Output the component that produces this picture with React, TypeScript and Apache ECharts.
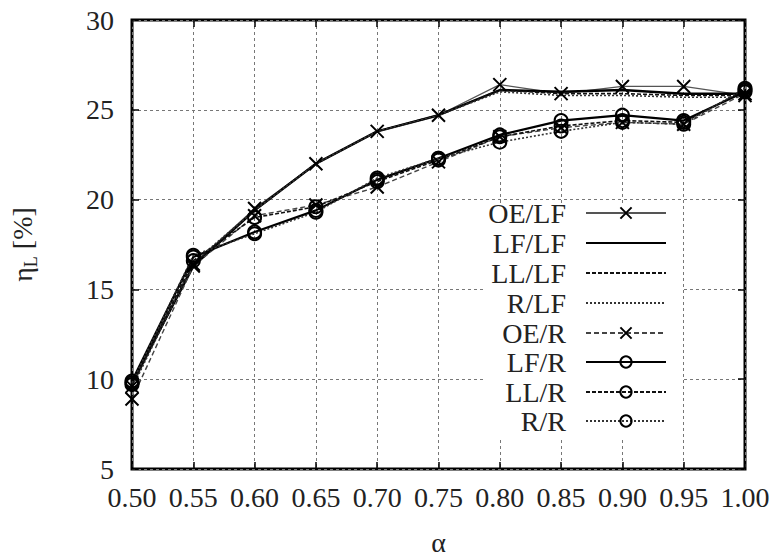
import React, { useEffect, useRef } from "react";
import * as echarts from "echarts";

const alphas = [0.5, 0.55, 0.6, 0.65, 0.7, 0.75, 0.8, 0.85, 0.9, 0.95, 1.0];
const seriesNames = ["OE/LF", "LF/LF", "LL/LF", "R/LF", "OE/R", "LF/R", "LL/R", "R/R"];
const oeLf = [9.6, 16.4, 19.5, 22.0, 23.8, 24.7, 26.4, 25.9, 26.3, 26.3, 25.8];
const lfLf = [9.8, 16.3, 19.4, 22.0, 23.8, 24.7, 26.1, 26.0, 26.1, 25.9, 25.9];
const llLf = [9.7, 16.4, 19.4, 22.0, 23.8, 24.7, 26.1, 25.9, 25.9, 25.8, 25.8];
const rLf = [9.5, 16.5, 19.4, 22.0, 23.8, 24.7, 26.0, 25.8, 25.8, 25.7, 25.7];
const oeR = [8.9, 16.3, 19.1, 19.7, 20.7, 22.1, 23.5, 24.0, 24.3, 24.2, 25.9];
const lfR = [9.9, 16.8, 18.2, 19.4, 21.1, 22.3, 23.6, 24.4, 24.7, 24.4, 26.0];
const llR = [9.7, 16.6, 19.0, 19.6, 21.0, 22.2, 23.5, 24.1, 24.4, 24.3, 26.1];
const rR = [9.8, 16.9, 18.1, 19.3, 21.2, 22.3, 23.2, 23.8, 24.3, 24.2, 26.2];
const yTicks = [5, 10, 15, 20, 25, 30];

const FONT = "'Liberation Serif', 'Times New Roman', serif";
const CROSS = "path://M0,0L10,10M0,10L10,0";

type Style = { w: number; type: any; color: string; symbol: string };
const styles: Style[] = [
  { w: 1.2, type: "solid", color: "#555", symbol: CROSS },
  { w: 2.5, type: "solid", color: "#000", symbol: "none" },
  { w: 1.6, type: [4, 2], color: "#111", symbol: "none" },
  { w: 1.6, type: [2, 2], color: "#333", symbol: "none" },
  { w: 1.4, type: [5, 3], color: "#444", symbol: CROSS },
  { w: 2.2, type: "solid", color: "#000", symbol: "circle" },
  { w: 1.6, type: [4, 2], color: "#111", symbol: "circle" },
  { w: 1.6, type: [2, 2], color: "#333", symbol: "circle" },
];
const values = [oeLf, lfLf, llLf, rLf, oeR, lfR, llR, rR];

export default function App() {
  const ref = useRef<HTMLDivElement>(null);
  useEffect(() => {
    if (!ref.current) return;
    const chart = echarts.init(ref.current, undefined, { renderer: "svg" });
    const legendTops = [213, 243, 273, 303, 333, 362, 392, 421];
    const series = seriesNames.map((name, i) => {
      const s = styles[i];
      return {
        name,
        type: "line",
        data: alphas.map((a, k) => [a, values[i][k]]),
        symbol: s.symbol,
        symbolSize: 13,
        showSymbol: s.symbol !== "none",
        lineStyle: { width: s.w, type: s.type, color: s.color },
        itemStyle: { color: "rgba(0,0,0,0)", borderColor: "#000", borderWidth: 2 },
        emphasis: { disabled: true },
        z: 3,
      };
    });
    const legends = seriesNames.map((name, i) => {
      const noMark = styles[i].symbol === "none";
      return {
        data: [
          noMark
            ? {
                name,
                itemStyle: { color: "rgba(0,0,0,0)", borderColor: "rgba(0,0,0,0)", borderWidth: 0, opacity: 0 },
              }
            : { name },
        ],
        right: 107,
        top: legendTops[i] - 14,
        align: "right",
        orient: "vertical",
        padding: 0,
        itemWidth: 80,
        itemHeight: 14,
        selectedMode: false,
        textStyle: {
          fontFamily: FONT,
          fontSize: 28,
          lineHeight: 28,
          color: "#222",
          padding: [0, 15, 0, 0],
        },
      };
    });
    chart.setOption({
      animation: false,
      backgroundColor: "#fff",
      textStyle: { fontFamily: FONT },
      grid: {
        left: 132,
        right: 29,
        top: 20,
        bottom: 87,
        outerBoundsMode: "none",
        containLabel: false,
        show: true,
        borderColor: "#000",
        borderWidth: 3,
        backgroundColor: "transparent",
      },
      legend: legends,
      graphic: [
        {
          type: "rect",
          shape: { x: 484, y: 203, width: 197, height: 234 },
          style: { fill: "#fff" },
          z: 1,
          silent: true,
        },
      ],
      xAxis: [
        {
          type: "value",
          min: 0.5,
          max: 1.0,
          interval: 0.05,
          name: "α",
          nameLocation: "middle",
          nameGap: 63,
          nameTextStyle: { fontFamily: FONT, fontSize: 28, lineHeight: 20, color: "#222" },
          axisLine: { show: false },
          axisTick: { show: true, inside: true, length: 7, lineStyle: { color: "#000", width: 1.5 } },
          axisLabel: {
            fontFamily: FONT,
            fontSize: 28,
            color: "#222",
            margin: 14,
            formatter: (v: number) => v.toFixed(2),
          },
          splitLine: { show: true, lineStyle: { color: "#777", type: [3, 3], width: 1 } },
        },
        {
          type: "value",
          position: "top",
          min: 0.5,
          max: 1.0,
          interval: 0.05,
          axisLine: { show: false },
          axisTick: { show: true, inside: true, length: 7, lineStyle: { color: "#000", width: 1.5 } },
          axisLabel: { show: false },
          splitLine: { show: false },
        },
      ],
      yAxis: [
        {
          type: "value",
          min: 5,
          max: 30,
          interval: 5,
          name: "{a|η}{b|L} [%]",
          nameLocation: "middle",
          nameGap: 92,
          nameRotate: 90,
          nameTextStyle: {
            fontFamily: FONT,
            fontSize: 28,
            color: "#222",
            rich: {
              a: { fontFamily: FONT, fontSize: 28, color: "#222" },
              b: { fontFamily: FONT, fontSize: 18, color: "#222", padding: [18, 0, 0, 0] },
            },
          },
          axisLine: { show: false },
          axisTick: { show: true, inside: true, length: 7, lineStyle: { color: "#000", width: 1.5 } },
          axisLabel: {
            fontFamily: FONT,
            fontSize: 28,
            color: "#222",
            margin: 18,
            formatter: (v: number) => (yTicks.includes(v) ? String(v) : ""),
          },
          splitLine: { show: true, lineStyle: { color: "#777", type: [3, 3], width: 1 } },
        },
        {
          type: "value",
          position: "right",
          min: 5,
          max: 30,
          interval: 5,
          axisLine: { show: false },
          axisTick: { show: true, inside: true, length: 7, lineStyle: { color: "#000", width: 1.5 } },
          axisLabel: { show: false },
          splitLine: { show: false },
        },
      ],
      series,
    });
    return () => chart.dispose();
  }, []);
  return <div ref={ref} style={{ width: 774, height: 556, position: "absolute", left: 0, top: 0 }} />;
}
